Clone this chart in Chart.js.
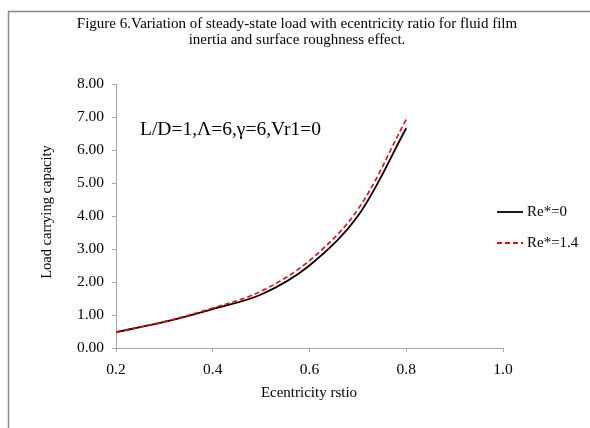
<!DOCTYPE html>
<html>
<head>
<meta charset="utf-8">
<script src="https://cdn.jsdelivr.net/npm/chart.js@4/dist/chart.umd.min.js"></script>
<style>
  html, body { margin: 0; padding: 0; background: #fff; }
  #wrap { width: 590px; height: 428px; }
</style>
</head>
<body>
<div id="wrap"><canvas id="chart" width="590" height="428"></canvas></div>
<script>
// Data
const eccentricity = [0.2, 0.3, 0.4, 0.5, 0.6, 0.7, 0.8];
const loadRe0 = [0.48, 0.79, 1.18, 1.62, 2.50, 4.00, 6.66];
const loadRe14 = [0.48, 0.80, 1.21, 1.72, 2.65, 4.20, 6.93];
const xTicks = [0.2, 0.4, 0.6, 0.8, 1.0];
const seriesNames = ['Re*=0', 'Re*=1.4'];

const serif = '"Liberation Serif", "Times New Roman", serif';
const axisGray = '#a6a6a6';

const toPoints = (ys) => eccentricity.map((x, i) => ({ x: x, y: ys[i] }));

// Frame, titles, annotation and legend
const decorations = {
    id: 'decorations',
    beforeDraw(chart) {
        const c = chart.ctx;
        c.save();
        c.fillStyle = '#fff';
        c.fillRect(0, 0, chart.width, chart.height);
        c.strokeStyle = '#888';
        c.lineWidth = 1.5;
        c.strokeRect(8.5, 11.5, 700, 500);
        c.restore();
    },
    afterDraw(chart) {
        const c = chart.ctx;
        c.save();
        c.fillStyle = '#000';
        c.textAlign = 'center';
        c.textBaseline = 'middle';
        c.font = '15px ' + serif;
        c.fillText('Figure 6.Variation of steady-state load with ecentricity ratio for fluid film', 297, 24);
        c.fillText('inertia and surface roughness effect.', 297, 40);

        c.fillText('Ecentricity rstio', 309, 393);

        c.save();
        c.translate(47, 212);
        c.rotate(-Math.PI / 2);
        c.font = '14.5px ' + serif;
        c.fillText('Load carrying capacity', 0, 0);
        c.restore();

        c.textAlign = 'left';
        c.font = '19.5px ' + serif;
        c.fillText('L/D=1,\u039B=6,\u03B3=6,Vr1=0', 140, 130);

        // legend
        c.font = '15px ' + serif;
        const rows = [
            { y: 212, color: '#000', dash: [] },
            { y: 243, color: '#ff0000', dash: [5, 3] }
        ];
        rows.forEach((r, i) => {
            c.beginPath();
            c.setLineDash(r.dash);
            c.strokeStyle = r.color;
            c.lineWidth = 1.8;
            c.moveTo(497, r.y);
            c.lineTo(523, r.y);
            c.stroke();
            c.setLineDash([]);
            c.fillStyle = '#000';
            c.fillText(seriesNames[i], 527, r.y);
        });
        c.restore();
    }
};

new Chart(document.getElementById('chart').getContext('2d'), {
    type: 'scatter',
    data: {
        datasets: [
            {
                label: seriesNames[0],
                data: toPoints(loadRe0),
                showLine: true,
                borderColor: '#000',
                borderWidth: 1.8,
                pointRadius: 0,
                tension: 0.35,
                order: 1
            },
            {
                label: seriesNames[1],
                data: toPoints(loadRe14),
                showLine: true,
                borderColor: '#ff0000',
                borderWidth: 1.6,
                borderDash: [5, 3],
                pointRadius: 0,
                tension: 0.35,
                order: 0
            }
        ]
    },
    options: {
        responsive: false,
        animation: false,
        layout: { padding: { top: 84, right: 87, left: 0, bottom: 0 } },
        plugins: {
            legend: { display: false },
            tooltip: { enabled: false }
        },
        scales: {
            x: {
                type: 'linear',
                min: 0.2,
                max: 1.0,
                afterBuildTicks: (axis) => { axis.ticks = xTicks.map(v => ({ value: v })); },
                afterFit: (axis) => { axis.height = 80; },
                ticks: {
                    padding: 9,
                    color: '#000',
                    font: { family: serif, size: 15.5 },
                    callback: (v) => Number(v).toFixed(1)
                },
                grid: { drawOnChartArea: false, drawTicks: true, tickLength: 4, color: axisGray },
                border: { color: axisGray, width: 1 }
            },
            y: {
                min: 0,
                max: 8,
                afterFit: (axis) => { axis.width = 116; },
                ticks: {
                    stepSize: 1,
                    padding: 8,
                    color: '#000',
                    font: { family: serif, size: 15.5 },
                    callback: (v) => Number(v).toFixed(2)
                },
                grid: { drawOnChartArea: false, drawTicks: true, tickLength: 4, color: axisGray },
                border: { color: axisGray, width: 1 }
            }
        }
    },
    plugins: [decorations]
});
</script>
</body>
</html>
